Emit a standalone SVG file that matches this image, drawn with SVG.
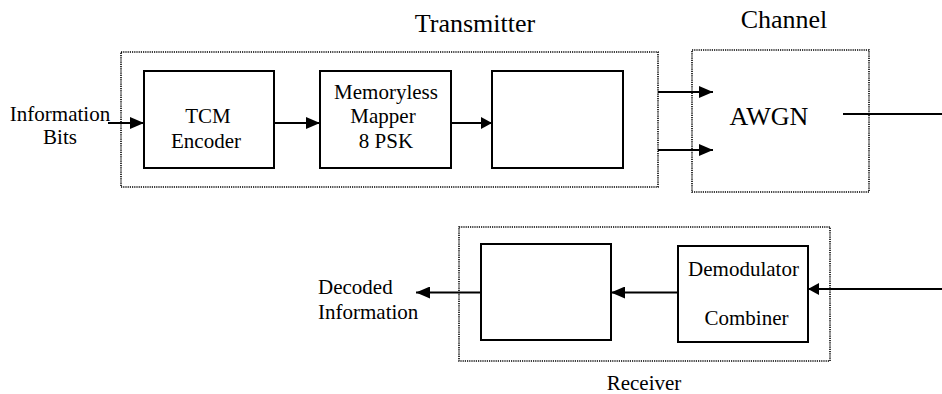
<svg xmlns="http://www.w3.org/2000/svg" width="942" height="394" viewBox="0 0 942 394">
<style>
.t{font-family:'Liberation Serif',Tinos,'Times New Roman',Times,'DejaVu Serif',serif;fill:#000}
.b{font-size:21px}
.h{font-size:26px}
.box{fill:#fff;stroke:#000;stroke-width:2}
.dot{fill:none;stroke:#000;stroke-width:1.6;stroke-dasharray:1.2 1}
.ln{fill:none;stroke:#000;stroke-width:2}
</style>
<defs>
<marker id="ah" markerUnits="userSpaceOnUse" markerWidth="14" markerHeight="12" refX="14" refY="6" orient="auto">
<path d="M0,0 L14,6 L0,12 z" fill="#000"/>
</marker>
<marker id="ahs" markerUnits="userSpaceOnUse" markerWidth="11" markerHeight="12" refX="11" refY="6" orient="auto">
<path d="M0,0 L11,6 L0,12 z" fill="#000"/>
</marker>
</defs>
<rect width="942" height="394" fill="#fff"/>

<g id="transmitter">
<rect class="dot" x="121" y="52" width="537" height="135"/>
<text class="t h" x="475" y="32" text-anchor="middle">Transmitter</text>
</g>
<g id="channel">
<rect class="dot" x="692" y="50" width="177" height="142"/>
<text class="t h" x="784" y="28" text-anchor="middle">Channel</text>
<text class="t h" x="769" y="125" text-anchor="middle">AWGN</text>
</g>
<g id="receiver">
<rect class="dot" x="459" y="227" width="371" height="134"/>
<text class="t b" x="644" y="390" text-anchor="middle">Receiver</text>
</g>

<g id="input-label">
<text class="t b" x="60" y="121" text-anchor="middle">Information</text>
<text class="t b" x="60" y="144" text-anchor="middle">Bits</text>
</g>
<g id="tcm-encoder">
<rect class="box" x="144" y="71" width="130" height="97"/>
<text class="t b" x="208" y="123" text-anchor="middle">TCM</text>
<text class="t b" x="206" y="148" text-anchor="middle">Encoder</text>
</g>
<g id="mapper">
<rect class="box" x="320" y="71" width="131" height="97"/>
<text class="t b" x="386" y="99" text-anchor="middle">Memoryless</text>
<text class="t b" x="383" y="123" text-anchor="middle">Mapper</text>
<text class="t b" x="386" y="148" text-anchor="middle">8 PSK</text>
</g>
<g id="tx-block3">
<rect class="box" x="492" y="71" width="131" height="97"/>
</g>
<g id="rx-block-left">
<rect class="box" x="481" y="244" width="130" height="96"/>
</g>
<g id="demod-combiner">
<rect class="box" x="678" y="246" width="130" height="96"/>
<text class="t b" x="743.5" y="276" text-anchor="middle">Demodulator</text>
<text class="t b" x="746.5" y="325" text-anchor="middle">Combiner</text>
</g>
<g id="output-label">
<text class="t b" x="318" y="294">Decoded</text>
<text class="t b" x="318" y="319">Information</text>
</g>

<g id="connectors">
<line class="ln" x1="108" y1="123" x2="144" y2="123" marker-end="url(#ah)"/>
<line class="ln" x1="274" y1="123" x2="320" y2="123" marker-end="url(#ah)"/>
<line class="ln" x1="451" y1="123" x2="492" y2="123" marker-end="url(#ahs)"/>
<line class="ln" x1="658" y1="92" x2="713" y2="92" marker-end="url(#ah)"/>
<line class="ln" x1="658" y1="150" x2="713" y2="150" marker-end="url(#ah)"/>
<line class="ln" x1="843" y1="114" x2="942" y2="114"/>
<line class="ln" x1="942" y1="289" x2="808" y2="289" marker-end="url(#ahs)"/>
<line class="ln" x1="678" y1="292.5" x2="611" y2="292.5" marker-end="url(#ah)"/>
<line class="ln" x1="481" y1="292.5" x2="416" y2="292.5" marker-end="url(#ah)"/>
</g>
</svg>
